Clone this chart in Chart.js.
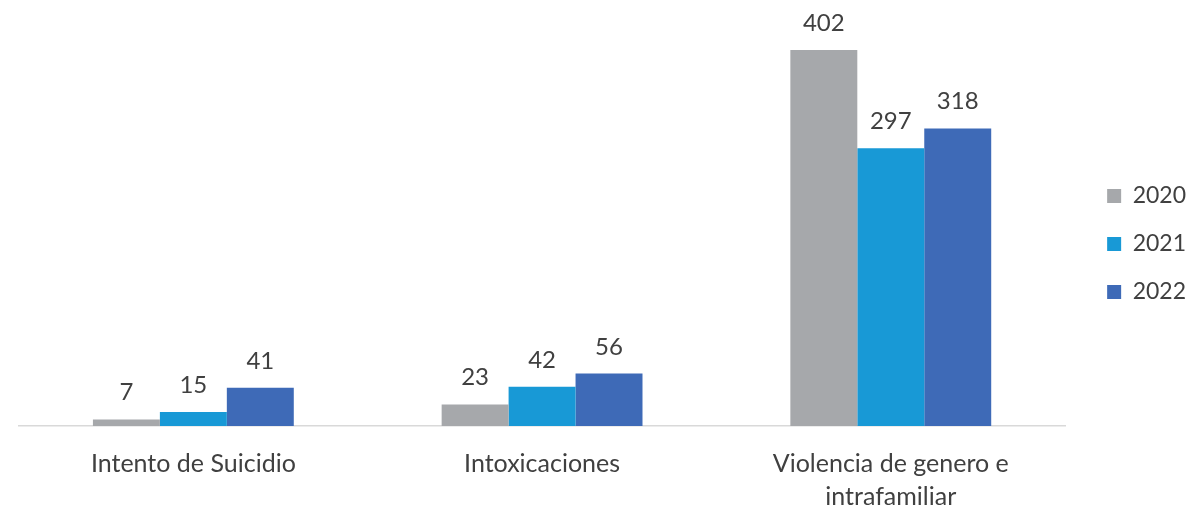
<!DOCTYPE html>
<html>
<head>
<meta charset="utf-8">
<script src="https://cdn.jsdelivr.net/npm/chart.js@4"></script>
<style>
  html, body { margin: 0; padding: 0; background: #fff; }
  #wrap { width: 1188px; height: 505px; }
</style>
</head>
<body>
<div id="wrap"><canvas id="graph"></canvas></div>
<script>
// Kategorien und Werte
const categories = ['Intento de Suicidio', 'Intoxicaciones', ['Violencia de genero e', 'intrafamiliar']];
const years = ['2020', '2021', '2022'];
const values2020 = [7, 23, 402];
const values2021 = [15, 42, 297];
const values2022 = [41, 56, 318];
const colors = ['#A6A8AB', '#1899D6', '#3E6AB7'];

const textColor = '#404040';
const fontFamily = 'Lato, "Open Sans", sans-serif';

// Zahlen über den Balken
const valueLabels = {
    id: 'valueLabels',
    afterDatasetsDraw(chart) {
        const ctx = chart.ctx;
        ctx.save();
        ctx.font = '24px ' + fontFamily;
        ctx.fillStyle = textColor;
        ctx.textAlign = 'center';
        ctx.textBaseline = 'alphabetic';
        chart.data.datasets.forEach((ds, i) => {
            chart.getDatasetMeta(i).data.forEach((bar, j) => {
                ctx.fillText(ds.data[j], bar.x, bar.y - 19);
            });
        });
        ctx.restore();
    }
};

new Chart(document.getElementById('graph').getContext('2d'), {
    type: 'bar',
    data: {
        labels: categories,
        datasets: [
            { label: years[0], data: values2020, backgroundColor: colors[0] },
            { label: years[1], data: values2021, backgroundColor: colors[1] },
            { label: years[2], data: values2022, backgroundColor: colors[2] }
        ]
    },
    options: {
        responsive: true,
        maintainAspectRatio: false,
        animation: false,
        barPercentage: 1,
        categoryPercentage: 0.576,
        layout: { padding: { left: 19, right: -8, top: 5, bottom: 0 } },
        plugins: {
            tooltip: { enabled: false },
            legend: {
                position: 'right',
                align: 'center',
                fullSize: false,
                // leerer Titel schiebt die Legende etwas nach unten
                title: { display: true, text: ' ', padding: 21, font: { size: 12, lineHeight: 1.25 } },
                labels: {
                    boxWidth: 14,
                    boxHeight: 14,
                    padding: 25,
                    color: textColor,
                    font: { family: fontFamily, size: 23 }
                }
            }
        },
        scales: {
            x: {
                grid: { display: false, drawTicks: false },
                border: { display: true, color: '#D9D9D9', width: 1.5 },
                ticks: {
                    color: textColor,
                    padding: 22,
                    maxRotation: 0,
                    autoSkip: false,
                    font: { family: fontFamily, size: 25, lineHeight: 1.3 }
                },
                afterFit(scale) { scale.height = 79; }
            },
            y: {
                display: false,
                min: 0,
                max: 450
            },
            gap: {
                position: 'right',
                display: true,
                grid: { display: false },
                border: { display: false },
                ticks: { display: false },
                afterFit(scale) { scale.width = 17; }
            }
        }
    },
    plugins: [valueLabels]
});
</script>
</body>
</html>
